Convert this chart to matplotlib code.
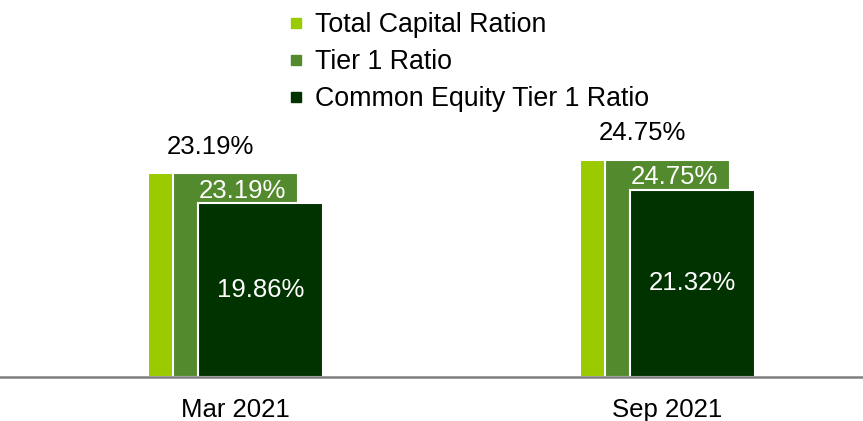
import matplotlib
matplotlib.use("Agg")
import matplotlib.pyplot as plt
from matplotlib.lines import Line2D
import numpy as np

categories = ["Mar 2021", "Sep 2021"]
series_names = ["Total Capital Ration", "Tier 1 Ratio", "Common Equity Tier 1 Ratio"]
total_capital = [23.19, 24.75]
tier1 = [23.19, 24.75]
cet1 = [19.86, 21.32]
colors = ["#9ACA00", "#548A2E", "#003300"]

plt.rcParams['font.family'] = ['Liberation Sans', 'DejaVu Sans']
FS = 18.5
LFS = 19.3

W, H = 863, 421
fig = plt.figure(figsize=(W / 100, H / 100), dpi=100)
base_px = 377
ax = fig.add_axes([0, (H - base_px) / H, 1, base_px / H])
px_per_unit = 8.78
ax.set_ylim(0, base_px / px_per_unit)
ax.set_xlim(-0.545, 1.4525)

x = np.arange(len(categories))
bw = 0.289
off = 0.0579
series = [total_capital, tier1, cet1]
for i, (vals, c) in enumerate(zip(series, colors)):
    ax.bar(x + (i - 1) * off, vals, width=bw, color=c, edgecolor="white",
           linewidth=1.5, zorder=2 + i)

for j in range(len(categories)):
    ax.text(x[j] - off, total_capital[j] + 3.0, f"{total_capital[j]:.2f}%",
            ha="center", va="center", fontsize=FS, color="black")
    ax.text(x[j] + 0.017, tier1[j] - 1.95, f"{tier1[j]:.2f}%",
            ha="center", va="center", fontsize=FS, color="white", zorder=10)
    ax.text(x[j] + off, cet1[j] / 2, f"{cet1[j]:.2f}%",
            ha="center", va="center", fontsize=FS, color="white", zorder=10)

ax.set_xticks(x)
ax.set_xticklabels(categories, fontsize=FS)
ax.tick_params(axis="x", length=0, pad=15)
ax.set_yticks([])
for s in ["top", "left", "right"]:
    ax.spines[s].set_visible(False)
ax.spines["bottom"].set_color("#808080")
ax.spines["bottom"].set_linewidth(1.8)
ax.spines["bottom"].set_zorder(20)
ax.patch.set_alpha(0)

handles = [Line2D([], [], marker="s", linestyle="none", markersize=7.5,
                  markerfacecolor=c, markeredgecolor=c) for c in colors]
fig.legend(handles, series_names, loc="upper left",
           bbox_to_anchor=(288 / W, 1 - 12 / H), frameon=False, fontsize=LFS,
           handlelength=0.6, handletextpad=0.4, labelspacing=0.41,
           borderaxespad=0, borderpad=0)

fig.savefig("out.png", dpi=100)
